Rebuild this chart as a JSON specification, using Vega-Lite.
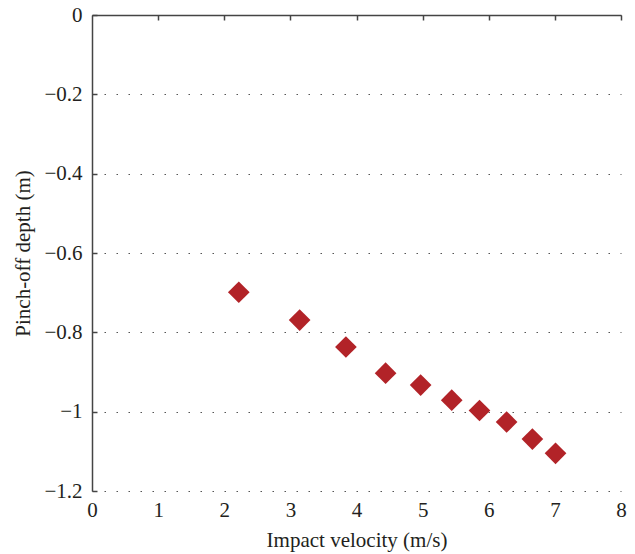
{
  "$schema": "https://vega.github.io/schema/vega-lite/v6.json",
  "autosize": "none",
  "padding": {"left": 92, "top": 15, "right": 14, "bottom": 63},
  "width": 529,
  "height": 476,
  "background": "white",
  "config": {
    "font": "Liberation Serif",
    "view": {"stroke": null}
  },
  "data": {
    "values": [
      {"v": 2.22, "d": -0.699},
      {"v": 3.14, "d": -0.769},
      {"v": 3.84, "d": -0.837},
      {"v": 4.44, "d": -0.903},
      {"v": 4.97, "d": -0.933},
      {"v": 5.44, "d": -0.971},
      {"v": 5.86, "d": -0.997},
      {"v": 6.27, "d": -1.026},
      {"v": 6.66, "d": -1.069},
      {"v": 7.01, "d": -1.105}
    ]
  },
  "layer": [
    {
      "mark": {"type": "point", "shape": "diamond", "filled": true, "size": 470, "color": "#b22328", "opacity": 1},
      "encoding": {
        "x": {
          "field": "v", "type": "quantitative",
          "scale": {"domain": [0, 8], "nice": false, "zero": false},
          "axis": {"orient": "bottom", "values": [0,1,2,3,4,5,6,7,8], "domain": false, "ticks": false, "grid": false, "labelPadding": 8, "labelFont": "Liberation Serif", "labelFontSize": 21, "labelColor": "#231f20", "title": "Impact velocity (m/s)", "titleFont": "Liberation Serif", "titleFontSize": 21, "titleFontWeight": "normal", "titleColor": "#231f20", "titlePadding": 9, "labelFlush": false}
        },
        "y": {
          "field": "d", "type": "quantitative",
          "scale": {"domain": [-1.2, 0], "nice": false, "zero": false},
          "axis": {"values": [0, -0.2, -0.4, -0.6, -0.8, -1, -1.2], "labelExpr": "datum.value == 0 ? '0' : '\u2212' + format(-datum.value, '~g')", "domain": true, "domainColor": "#444", "domainWidth": 1.5, "ticks": true, "tickColor": "#444", "tickSize": -5, "tickWidth": 1.5, "labelPadding": 15, "labelFont": "Liberation Serif", "labelFontSize": 21, "labelColor": "#231f20", "grid": true, "gridColor": "#555", "gridDash": [1.5, 10.5], "gridWidth": 1.2, "title": "Pinch-off depth (m)", "titleFont": "Liberation Serif", "titleFontSize": 21, "titleFontWeight": "normal", "titleColor": "#231f20", "titlePadding": 10, "labelFlush": false}
        }
      }
    },
    {
      "mark": {"type": "point", "opacity": 0},
      "encoding": {
        "x": {
          "field": "v", "type": "quantitative",
          "axis": {"orient": "top", "values": [1,2,3,4,5,6,7,8], "labels": false, "domain": true, "domainColor": "#444", "domainWidth": 1.5, "ticks": true, "tickColor": "#444", "tickSize": -5, "tickWidth": 1.5, "grid": false, "title": null}
        },
        "y": {"field": "d", "type": "quantitative"}
      }
    }
  ],
  "resolve": {"axis": {"x": "independent"}}
}
